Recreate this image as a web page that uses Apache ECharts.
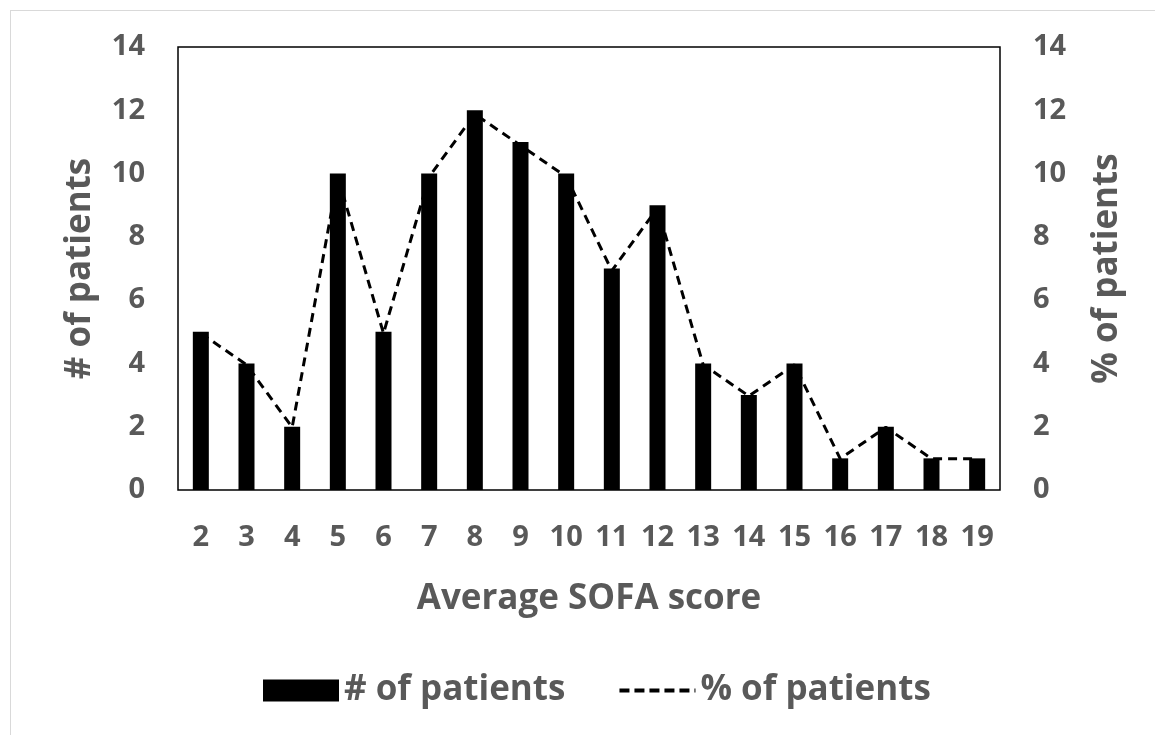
<!DOCTYPE html>
<html>
<head>
<meta charset="utf-8">
<script src="https://cdn.jsdelivr.net/npm/echarts@6/dist/echarts.min.js"></script>
<style>
  html, body { margin: 0; padding: 0; background: #fff; }
  #frame { position: absolute; left: 10px; top: 10px; width: 1150px; height: 730px; border: 1px solid #d9d9d9; box-sizing: border-box; }
  #chart { position: absolute; left: 0; top: 0; width: 1155px; height: 735px; }
</style>
</head>
<body>
<div id="frame"></div>
<div id="chart"></div>
<script>
var scores = ['2','3','4','5','6','7','8','9','10','11','12','13','14','15','16','17','18','19'];
var patients = [5, 4, 2, 10, 5, 10, 12, 11, 10, 7, 9, 4, 3, 4, 1, 2, 1, 1];
var percent = [4.95, 3.96, 1.98, 9.90, 4.95, 9.90, 11.88, 10.89, 9.90, 6.93, 8.91, 3.96, 2.97, 3.96, 0.99, 1.98, 0.99, 0.99];

var grey = '#595959';
var fnt = 'Open Sans';

var chart = echarts.init(document.getElementById('chart'));
chart.setOption({
  animation: false,
  textStyle: { fontFamily: fnt },
  grid: { left: 178, right: 155, top: 47, bottom: 245, show: true, borderColor: '#000', borderWidth: 1.5, backgroundColor: 'transparent' },
  legend: {
    top: 668,
    left: 258,
    itemGap: 52,
    itemWidth: 76,
    itemHeight: 22,
    textStyle: { color: grey, fontSize: 35, fontWeight: 'bold', fontFamily: fnt },
    data: [
      { name: '# of patients', icon: 'rect' },
      { name: '% of patients', itemStyle: { opacity: 0 }, lineStyle: { width: 4, type: [10, 5] } }
    ]
  },
  xAxis: {
    type: 'category',
    data: scores,
    name: 'Average SOFA score',
    nameLocation: 'middle',
    nameGap: 92,
    nameTextStyle: { color: grey, fontSize: 35, fontWeight: 'bold' },
    axisLine: { show: false },
    axisTick: { show: false },
    axisLabel: { color: grey, fontSize: 29, fontWeight: 'bold', margin: 33 }
  },
  yAxis: [
    {
      type: 'value', min: 0, max: 14, interval: 2,
      name: '# of patients', nameLocation: 'middle', nameGap: 80,
      nameTextStyle: { color: grey, fontSize: 35, fontWeight: 'bold' },
      axisLine: { show: false }, axisTick: { show: false }, splitLine: { show: false },
      axisLabel: { color: grey, fontSize: 29, fontWeight: 'bold', margin: 33 }
    },
    {
      type: 'value', min: 0, max: 14, interval: 2,
      name: '% of patients', nameLocation: 'middle', nameGap: 90,
      nameRotate: 90,
      nameTextStyle: { color: grey, fontSize: 35, fontWeight: 'bold' },
      axisLine: { show: false }, axisTick: { show: false }, splitLine: { show: false },
      axisLabel: { color: grey, fontSize: 29, fontWeight: 'bold', margin: 33 }
    }
  ],
  series: [
    {
      name: '# of patients',
      type: 'bar',
      data: patients,
      barWidth: 16,
      itemStyle: { color: '#000' },
      z: 3
    },
    {
      name: '% of patients',
      type: 'line',
      yAxisIndex: 1,
      data: percent,
      symbol: 'none',
      lineStyle: { color: '#000', width: 3, type: [9, 6] },
      itemStyle: { color: '#000' },
      z: 2
    }
  ]
});
</script>
</body>
</html>
